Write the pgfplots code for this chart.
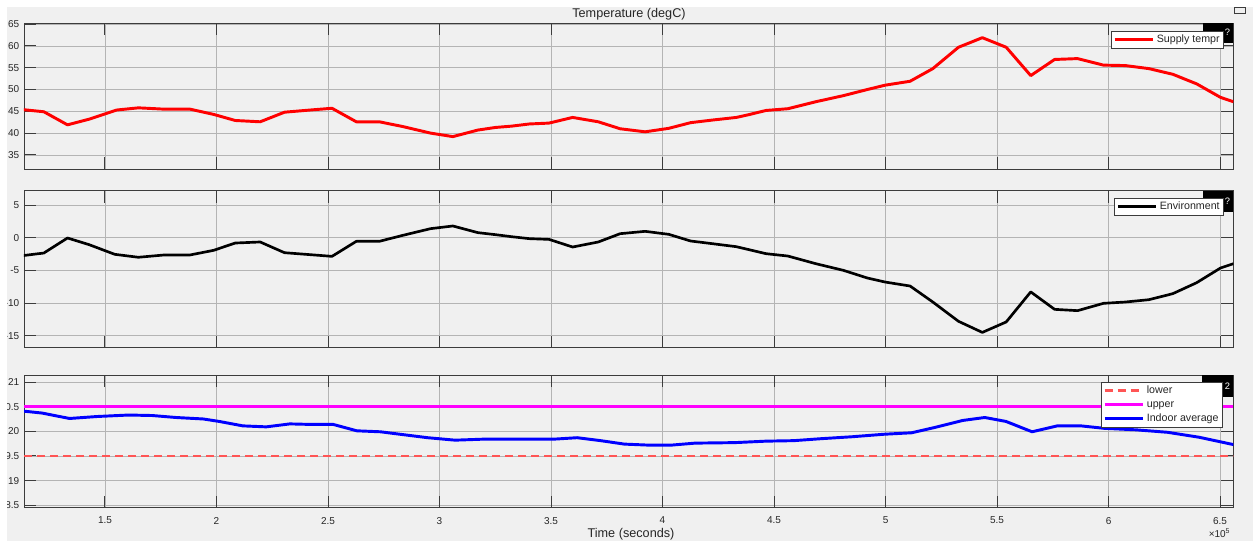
\documentclass[border=0pt]{standalone}
\usepackage{pgfplots}
\pgfplotsset{compat=1.18}
\usepackage{fontspec}
\setmainfont{Liberation Sans}
\definecolor{bgray}{RGB}{240,240,240}
\definecolor{gridc}{RGB}{180,180,180}
\definecolor{axc}{RGB}{60,60,60}
\definecolor{labc}{RGB}{38,38,38}
\definecolor{lowc}{RGB}{255,85,85}
\definecolor{magc}{RGB}{255,0,255}
\definecolor{redc}{RGB}{255,0,0}
\definecolor{bluec}{RGB}{0,0,255}
\pgfplotsset{
  mat/.style={
    scale only axis,
    anchor=north west,
    xmin=1.137, xmax=6.56,
    width=907.1pt,
    axis background/.style={fill=bgray},
    grid=major,
    major grid style={draw=gridc, line width=0.55pt},
    axis line style={draw=axc, line width=0.7pt},
    tick align=inside,
    major tick length=9pt,
    every tick/.style={draw=axc, line width=0.7pt},
    xtick={1.5,2,2.5,3,3.5,4,4.5,5,5.5,6,6.5},
    ticklabel style={font=\fontsize{7.5}{9}\selectfont, text=labc},
    /pgf/number format/assume math mode=true,
    legend cell align=left,
    legend style={draw=axc, line width=0.5pt, fill=white, anchor=north east,
      inner xsep=1.5pt, inner ysep=1.1pt, row sep=0pt,
      nodes={inner xsep=1.5pt, inner ysep=1.25pt, text height=6pt, text depth=2pt,
        font=\fontsize{8}{9}\selectfont, text=labc}},
    legend image code/.code={\draw[##1] (0pt,0pt) -- (29pt,0pt);},
  }
}
\begin{document}
\begin{tikzpicture}
\fill[white] (0pt,0pt) rectangle (939.75pt,-405.75pt);
\fill[bgray] (5.25pt,-5.25pt) rectangle (939.75pt,-405.75pt);
\useasboundingbox (0pt,0pt) rectangle (939.75pt,-405.75pt);

% ---------- top panel ----------
\begin{axis}[mat, at={(18pt,-17.475pt)}, height=109.5pt,
  ymin=31.7, ymax=65.2, ytick={35,40,45,50,55,60,65},
  xticklabels={},
  legend style={at={(rel axis cs:1,1)}, xshift=-7.1pt, yshift=-5.8pt}]
\fill[black] ([xshift=-22.9pt,yshift=-14.8pt]rel axis cs:1,1) rectangle (rel axis cs:1,1);
\node[text=white, font=\fontsize{7}{8}\selectfont] at ([xshift=-4.5pt,yshift=-7pt]rel axis cs:1,1) {?};
\addplot[redc, line width=2.2pt, line join=round] table {
1.119 45.46
1.226 44.9
1.332 41.9
1.429 43.2
1.553 45.3
1.650 45.8
1.765 45.5
1.881 45.5
1.987 44.3
2.084 42.9
2.196 42.6
2.305 44.8
2.420 45.3
2.518 45.7
2.627 42.6
2.730 42.6
2.836 41.5
2.960 40.0
3.060 39.2
3.172 40.7
3.251 41.3
3.323 41.6
3.403 42.1
3.491 42.3
3.597 43.6
3.712 42.6
3.810 41.0
3.922 40.3
4.028 41.1
4.126 42.4
4.224 43.0
4.331 43.6
4.384 44.2
4.464 45.2
4.562 45.6
4.687 47.2
4.811 48.6
4.918 50.0
4.998 51.0
5.110 51.9
5.212 54.8
5.327 59.7
5.434 61.9
5.541 59.7
5.651 53.2
5.758 56.9
5.861 57.1
5.977 55.6
6.075 55.5
6.181 54.8
6.288 53.5
6.395 51.3
6.502 48.2
6.560 47.2
};
\addlegendentry{Supply tempr}
\end{axis}

% ---------- middle panel ----------
\begin{axis}[mat, at={(18pt,-143.025pt)}, height=117.75pt,
  ymin=-16.84, ymax=7.19, ytick={-15,-10,-5,0,5},
  xticklabels={},
  legend style={at={(rel axis cs:1,1)}, xshift=-7.1pt, yshift=-5.5pt}]
\fill[black] ([xshift=-22.9pt,yshift=-16pt]rel axis cs:1,1) rectangle (rel axis cs:1,1);
\node[text=white, font=\fontsize{7}{8}\selectfont] at ([xshift=-4.5pt,yshift=-8pt]rel axis cs:1,1) {?};
\addplot[black, line width=2pt, line join=round] table {
1.119 -2.8
1.226 -2.35
1.332 -0.05
1.429 -1.07
1.544 -2.55
1.650 -3.0
1.765 -2.65
1.881 -2.65
1.987 -1.94
2.084 -0.82
2.196 -0.66
2.305 -2.3
2.420 -2.6
2.518 -2.86
2.627 -0.56
2.730 -0.56
2.836 0.36
2.960 1.38
3.060 1.79
3.172 0.77
3.251 0.46
3.323 0.15
3.403 -0.15
3.491 -0.26
3.597 -1.43
3.712 -0.66
3.810 0.61
3.922 0.97
4.028 0.51
4.126 -0.51
4.224 -0.92
4.331 -1.38
4.464 -2.45
4.562 -2.81
4.687 -3.98
4.811 -5.0
4.918 -6.17
4.998 -6.79
5.110 -7.40
5.212 -9.85
5.327 -12.8
5.434 -14.5
5.541 -12.9
5.651 -8.3
5.758 -10.97
5.861 -11.17
5.977 -10.05
6.075 -9.85
6.181 -9.49
6.288 -8.57
6.395 -6.89
6.502 -4.64
6.560 -3.98
};
\addlegendentry{Environment}
\end{axis}

% ---------- bottom panel ----------
\begin{axis}[mat, at={(18pt,-281.475pt)}, height=99.3pt,
  ymin=18.45, ymax=21.136, ytick={18.5,19,19.5,20,20.5,21},
  xticklabel style={yshift=-3.5pt},
  legend style={at={(rel axis cs:1,1)}, xshift=-7.9pt, yshift=-5pt}]
\fill[black] ([xshift=-23.6pt,yshift=-16.3pt]rel axis cs:1,1) rectangle (rel axis cs:1,1);
\node[text=white, font=\fontsize{7}{8}\selectfont] at ([xshift=-4.5pt,yshift=-8pt]rel axis cs:1,1) {2};
\addplot[lowc, line width=2pt, dash pattern=on 6pt off 3.75pt] coordinates {(1.137,19.5) (6.56,19.5)};
\addlegendentry{lower}
\addplot[magc, line width=2.2pt] coordinates {(1.137,20.5) (6.56,20.5)};
\addlegendentry{upper}
\addplot[bluec, line width=2.2pt, line join=round] table {
1.112 20.42
1.218 20.37
1.341 20.26
1.465 20.30
1.606 20.33
1.712 20.32
1.818 20.28
1.941 20.25
2.012 20.20
2.118 20.11
2.223 20.09
2.329 20.15
2.417 20.14
2.523 20.14
2.629 20.01
2.735 19.99
2.841 19.93
2.947 19.87
3.070 19.82
3.194 19.84
3.370 19.84
3.511 19.84
3.617 19.87
3.723 19.81
3.829 19.74
3.935 19.72
4.041 19.72
4.146 19.76
4.323 19.77
4.464 19.80
4.588 19.81
4.711 19.85
4.852 19.89
4.993 19.94
5.117 19.97
5.223 20.08
5.346 20.22
5.445 20.28
5.540 20.20
5.657 19.99
5.770 20.11
5.876 20.11
5.981 20.06
6.122 20.03
6.264 19.98
6.405 19.88
6.560 19.73
};
\addlegendentry{Indoor average}
\end{axis}

% ---------- texts ----------
\node[font=\fontsize{9.5}{11}\selectfont, text=labc] at (471.75pt,-10.5pt) {Temperature (degC)};
\node[font=\fontsize{9.5}{11}\selectfont, text=labc] at (473.25pt,-400.5pt) {Time (seconds)};
\node[font=\fontsize{7.5}{9}\selectfont, text=labc, anchor=east] at (926.25pt,-400.1pt) {×10\textsuperscript{5}};
\draw[axc, line width=0.4pt, fill=bgray] (925.5pt,-5.25pt) rectangle (933.75pt,-9.75pt);
% white margins over clipped labels
\fill[white] (0pt,0pt) rectangle (5.25pt,-405.75pt);
\fill[white] (0pt,0pt) rectangle (939.75pt,-5.25pt);
\end{tikzpicture}
\end{document}
